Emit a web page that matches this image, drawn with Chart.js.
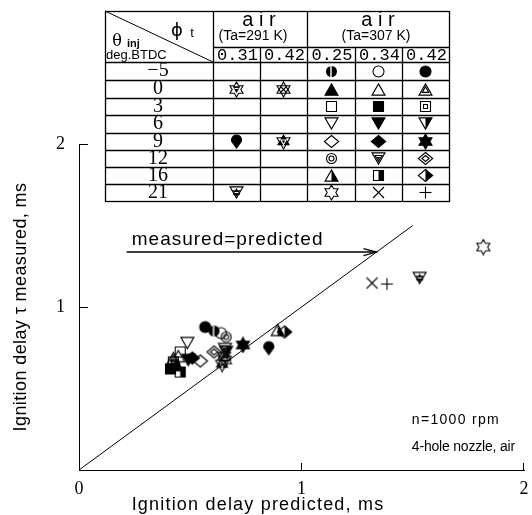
<!DOCTYPE html>
<html><head><meta charset="utf-8">
<script src="https://cdn.jsdelivr.net/npm/chart.js@4.4.1/dist/chart.umd.min.js"></script>
<style>html,body{margin:0;padding:0;background:#fff;}canvas{display:block;}</style>
</head><body>
<canvas id="c" width="532" height="515"></canvas>
<script>
// ---------------- DATA ----------------
const injectionTimings = [-5, 0, 3, 6, 9, 12, 16, 21];          // θinj, deg BTDC (table rows)
const equivalenceRatios = ['0.31', '0.42', '0.25', '0.34', '0.42']; // φt (table columns)
const airGroups = ['(Ta=291 K)', '(Ta=307 K)'];
const xTicks = [0, 1, 2];
const yTicks = [0, 1, 2];

// air, Ta=291 K
const a291_031_timing = [0, 9, 21];
const a291_031_predicted = [0.656, 0.853, 1.531];
const a291_031_measured = [0.675, 0.748, 1.178];
const a291_042_timing = [0, 9];
const a291_042_predicted = [0.652, 0.643];
const a291_042_measured = [0.699, 0.650];
// air, Ta=307 K
const a307_025_timing = [-5, 0, 3, 6, 9, 12, 16, 21];
const a307_025_predicted = [0.607, 0.438, 0.455, 0.487, 0.545, 0.661, 0.893, 1.817];
const a307_025_measured = [0.853, 0.644, 0.724, 0.779, 0.669, 0.816, 0.859, 1.368];
const a307_034_timing = [-5, 0, 3, 6, 9, 12, 16, 21];
const a307_034_predicted = [0.638, 0.446, 0.411, 0.491, 0.509, 0.656, 0.455, 1.317];
const a307_034_measured = [0.840, 0.699, 0.620, 0.675, 0.687, 0.742, 0.601, 1.147];
const a307_042_timing = [-5, 0, 3, 6, 9, 12, 16, 21];
const a307_042_predicted = [0.567, 0.424, 0.424, 0.661, 0.737, 0.607, 0.924, 1.384];
const a307_042_measured = [0.877, 0.687, 0.663, 0.724, 0.767, 0.724, 0.847, 1.141];

const identityLine = [0, 1.5];
const arrowLevel = 1.337;
const arrowStart = 0.214;

// ---------------- SYMBOLS ----------------
function makeSymbol(key){
  const S=17, c=S/2;
  const cv=document.createElement('canvas'); cv.width=S; cv.height=S;
  const g=cv.getContext('2d');
  g.lineWidth=1.1; g.strokeStyle='#000'; g.fillStyle='#000';
  const poly=(pts)=>{const p=new Path2D();p.moveTo(pts[0][0],pts[0][1]);for(let i=1;i<pts.length;i++)p.lineTo(pts[i][0],pts[i][1]);p.closePath();return p;};
  const reg=(n,r,startDeg,dy)=>{const pts=[];for(let k=0;k<n;k++){const a=(startDeg+k*360/n)*Math.PI/180;pts.push([c+r*Math.cos(a),c+dy+r*Math.sin(a)]);}return poly(pts);};
  const triU=(r)=>reg(3,r,-90,r*0.25);
  const triD=(r)=>reg(3,r,90,-r*0.25);
  const sq=(h)=>{const p=new Path2D();p.rect(c-h,c-h,2*h,2*h);return p;};
  const dia=(r)=>poly([[c,c-r],[c+r*1.2,c],[c,c+r],[c-r*1.2,c]]);
  const circ=(r)=>{const p=new Path2D();p.arc(c,c,r,0,Math.PI*2);return p;};
  const star=(r)=>{const pts=[];const ri=r/Math.sqrt(3);for(let k=0;k<12;k++){const a=(-90+k*30)*Math.PI/180;const rr=k%2?ri:r;pts.push([c+rr*Math.cos(a),c+rr*Math.sin(a)]);}return poly(pts);};
  const starU=(r)=>reg(3,r,-90,0), starD=(r)=>reg(3,r,90,0);
  const half=(p,side)=>{g.save();const cl=new Path2D();if(side==='right')cl.rect(c,0,S,S);else cl.rect(0,0,c,S);g.clip(cl);g.fill(p);g.restore();g.stroke(p);};
  const line=(x1,y1,x2,y2)=>{g.beginPath();g.moveTo(x1,y1);g.lineTo(x2,y2);g.stroke();};
  switch(key){
    case 'halfCircle': { const p=circ(5.5); g.fill(p); g.strokeStyle='#fff'; g.lineWidth=1.4; line(c-0.5,c-6,c-0.5,c+6); break; }
    case 'circle': g.stroke(circ(5.5)); break;
    case 'circleFilled': g.fill(circ(5.5)); g.stroke(circ(5.5)); break;
    case 'triFilled': g.fill(triU(7.5)); g.stroke(triU(7.5)); break;
    case 'tri': g.stroke(triU(7.5)); break;
    case 'triInTri': g.stroke(triU(7.5)); g.stroke(triU(3.8)); break;
    case 'square': g.stroke(sq(5)); break;
    case 'squareFilled': g.fill(sq(5)); g.stroke(sq(5)); break;
    case 'squareInSquare': g.stroke(sq(5)); g.stroke(sq(2)); break;
    case 'triDown': g.stroke(triD(7.5)); break;
    case 'triDownFilled': g.fill(triD(7.5)); g.stroke(triD(7.5)); break;
    case 'triDownHalf': half(triD(7.5),'right'); break;
    case 'diamond': g.stroke(dia(6)); break;
    case 'diamondFilled': g.fill(dia(6)); g.stroke(dia(6)); break;
    case 'star6Filled': g.fill(star(7.5)); g.stroke(star(7.5)); break;
    case 'ring': g.stroke(circ(5)); g.stroke(circ(2.5)); break;
    case 'triDownInTriDown': g.stroke(triD(7.5)); g.stroke(triD(4)); g.fill(triD(2)); break;
    case 'diamondInDiamond': g.stroke(dia(6)); g.stroke(dia(3)); break;
    case 'triHalf': half(triU(7.5),'right'); break;
    case 'squareHalf': half(sq(5),'right'); break;
    case 'diamondHalf': half(dia(6),'right'); break;
    case 'star6': g.stroke(star(7.5)); break;
    case 'cross': line(c-5.5,c-5.5,c+5.5,c+5.5); line(c+5.5,c-5.5,c-5.5,c+5.5); break;
    case 'plus': line(c-6,c,c+6,c); line(c,c-6,c,c+6); break;
    case 'w1': g.stroke(star(7.5)); g.fill(triD(4.5)); g.strokeStyle='#fff'; line(c-2,c-1,c+2,c-1); break;
    case 'w2': g.stroke(starU(7.5)); g.stroke(starD(7.5)); line(c-3,c-3,c+3,c+3); line(c+3,c-3,c-3,c+3); break;
    case 'w3': { const p=new Path2D(); p.arc(c,c-1.5,5,Math.PI*0.9,Math.PI*2.1); p.lineTo(c,c+6.5); p.closePath(); g.fill(p); g.stroke(p); break; }
    case 'w4': g.fill(starU(7.5)); g.stroke(starD(7.5)); g.strokeStyle='#fff'; g.stroke(starD(3)); break;
    case 'w5': g.stroke(triD(7.5)); g.fill(star(4.5)); g.strokeStyle='#fff'; line(c-2,c,c+2,c); break;
  }
  return cv;
}

const styleMap = {
  a291_031: {0:'w1', 9:'w3', 21:'w5'},
  a291_042: {0:'w2', 9:'w4'},
  a307_025: {'-5':'halfCircle',0:'triFilled',3:'square',6:'triDown',9:'diamond',12:'ring',16:'triHalf',21:'star6'},
  a307_034: {'-5':'circle',0:'tri',3:'squareFilled',6:'triDownFilled',9:'diamondFilled',12:'triDownInTriDown',16:'squareHalf',21:'cross'},
  a307_042: {'-5':'circleFilled',0:'triInTri',3:'squareInSquare',6:'triDownHalf',9:'star6Filled',12:'diamondInDiamond',16:'diamondHalf',21:'plus'}
};
const symCache = {};
function sym(k){ if(!symCache[k]) symCache[k]=makeSymbol(k); return symCache[k]; }

const seriesDefs = [
  {id:'a291_031', t:a291_031_timing, x:a291_031_predicted, y:a291_031_measured},
  {id:'a291_042', t:a291_042_timing, x:a291_042_predicted, y:a291_042_measured},
  {id:'a307_025', t:a307_025_timing, x:a307_025_predicted, y:a307_025_measured},
  {id:'a307_034', t:a307_034_timing, x:a307_034_predicted, y:a307_034_measured},
  {id:'a307_042', t:a307_042_timing, x:a307_042_predicted, y:a307_042_measured}
];

const datasets = [
  {type:'line', data:identityLine.map(v=>({x:v,y:v})), borderColor:'#000', borderWidth:1, pointRadius:0, showLine:true, fill:false},
  {type:'line', data:[{x:arrowStart,y:arrowLevel},{x:arrowLevel,y:arrowLevel}], borderColor:'#000', borderWidth:1.6, pointRadius:0, showLine:true, fill:false}
];
seriesDefs.forEach(s=>{
  datasets.push({
    type:'scatter',
    data:s.x.map((v,i)=>({x:v,y:s.y[i]})),
    pointRadius:7,
    pointStyle:(ctx)=>sym(styleMap[s.id][s.t[ctx.dataIndex]]),
    borderColor:'#000', backgroundColor:'#000'
  });
});

// ---------------- DECORATION PLUGIN ----------------
const deco = {
  id:'deco',
  afterDraw(chart){
    const ctx=chart.ctx, xs=chart.scales.x, ys=chart.scales.y, a=chart.chartArea;
    ctx.save();
    ctx.strokeStyle='#000'; ctx.fillStyle='#000'; ctx.lineWidth=1;
    // inward ticks
    [1,2].forEach(v=>{
      const y=Math.round(ys.getPixelForValue(v))+0.5;
      ctx.beginPath(); ctx.moveTo(a.left,y); ctx.lineTo(a.left+9,y); ctx.stroke();
      const x=Math.round(xs.getPixelForValue(v))-0.5;
      ctx.beginPath(); ctx.moveTo(x,a.bottom); ctx.lineTo(x,a.bottom-7); ctx.stroke();
    });
    // arrow head
    const ax=xs.getPixelForValue(arrowLevel), ay=ys.getPixelForValue(arrowLevel);
    ctx.lineWidth=1.2;
    ctx.beginPath(); ctx.moveTo(ax-13,ay-3.5); ctx.lineTo(ax,ay); ctx.lineTo(ax-13,ay+3.5); ctx.stroke();
    // annotation texts
    ctx.textBaseline='alphabetic'; ctx.textAlign='left';
    ctx.font='19px "Liberation Sans", Arial, sans-serif';
    ctx.letterSpacing='1px';
    ctx.fillText('measured=predicted', xs.getPixelForValue(0.237), ay-7);
    ctx.font='14px "Liberation Sans", Arial, sans-serif';
    ctx.textBaseline='middle';
    ctx.letterSpacing='1.3px';
    ctx.fillText('n=1000 rpm', xs.getPixelForValue(1.496), ys.getPixelForValue(0.307));
    ctx.letterSpacing='-0.2px';
    ctx.fillText('4-hole nozzle, air', xs.getPixelForValue(1.496), ys.getPixelForValue(0.141));
    // axis titles
    ctx.font='18px "Liberation Sans", Arial, sans-serif';
    ctx.letterSpacing='1.2px'; ctx.textAlign='center';
    ctx.fillText('Ignition delay predicted, ms', 258, 505);
    ctx.save(); ctx.translate(21,(a.top+a.bottom)/2); ctx.rotate(-Math.PI/2);
    ctx.letterSpacing='0.4px';
    ctx.fillText('Ignition delay \u03c4 measured, ms', 0, 0);
    ctx.restore();
    ctx.letterSpacing='0px';
    // ---- table ----
    const colX=[105,213,260,307,355,402,449];
    const rowY=[62,80,98,115,132.5,150,167,184,201];
    const top=11, sub=47;
    ctx.lineWidth=1.3;
    ctx.strokeRect(colX[0]+0.5, top+0.5, colX[6]-colX[0], rowY[8]-top);
    const hl=(x1,x2,y)=>{ctx.beginPath();ctx.moveTo(x1,Math.round(y)+0.5);ctx.lineTo(x2,Math.round(y)+0.5);ctx.stroke();};
    const vl=(x,y1,y2)=>{ctx.beginPath();ctx.moveTo(x+0.5,y1);ctx.lineTo(x+0.5,y2);ctx.stroke();};
    hl(colX[1],colX[6],sub);
    for(let i=0;i<rowY.length-1;i++) hl(colX[0],colX[6],rowY[i]);
    vl(colX[1],top,rowY[8]); vl(colX[3],top,rowY[8]);
    [2,4,5].forEach(i=>vl(colX[i],sub,rowY[8]));
    ctx.lineWidth=1;
    ctx.beginPath(); ctx.moveTo(colX[0],top); ctx.lineTo(colX[1],rowY[0]); ctx.stroke();
    // header texts
    ctx.textAlign='center'; ctx.textBaseline='middle';
    ctx.font='20px "Liberation Sans", Arial, sans-serif';
    ctx.fillText('a i r', 259, 20); ctx.fillText('a i r', 378, 20);
    ctx.font='14px "Liberation Sans", Arial, sans-serif';
    ctx.fillText(airGroups[0], 253, 36); ctx.fillText(airGroups[1], 376, 36);
    ctx.font='18px "DejaVu Sans", sans-serif';
    ctx.fillText('\u03d5', 177, 31);
    ctx.font='13px "Liberation Sans", Arial, sans-serif';
    ctx.fillText('t', 192, 33);
    ctx.font='16px "DejaVu Serif", serif';
    ctx.fillText('\u03b8', 117, 42);
    ctx.font='bold 11px "Liberation Sans", Arial, sans-serif';
    ctx.textAlign='left';
    ctx.fillText('inj', 127, 44);
    ctx.font='13px "Liberation Sans", Arial, sans-serif';
    ctx.fillText('deg.BTDC', 106, 55);
    ctx.textAlign='center';
    ctx.font='17px "Liberation Mono", monospace';
    for(let i=0;i<5;i++) ctx.fillText(equivalenceRatios[i], (colX[i+1]+colX[i+2])/2+1, 55);
    ctx.font='20px "Liberation Serif", serif';
    const colIds=['a291_031','a291_042','a307_025','a307_034','a307_042'];
    injectionTimings.forEach((t,r)=>{
      const cy=(rowY[r]+rowY[r+1])/2;
      ctx.fillText(t<0?'\u2212'+Math.abs(t):String(t), 158, cy);
      colIds.forEach((id,ci)=>{
        const k=styleMap[id][t];
        if(k){ const s=sym(k); const cx=(colX[ci+1]+colX[ci+2])/2; ctx.drawImage(s, Math.round(cx-s.width/2), Math.round(cy-s.height/2)); }
      });
    });
    ctx.restore();
  }
};

new Chart(document.getElementById('c'), {
  type:'scatter',
  data:{datasets},
  options:{
    responsive:false, animation:false, devicePixelRatio:1,
    layout:{padding:{top:144, right:6, left:0, bottom:0}},
    plugins:{legend:{display:false}, tooltip:{enabled:false}},
    scales:{
      x:{type:'linear', min:0, max:2,
         afterBuildTicks:(s)=>{s.ticks=xTicks.map(v=>({value:v}));},
         afterFit:(s)=>{s.height=45;},
         grid:{display:false, drawTicks:true, tickLength:8},
         border:{display:true, color:'#000', width:1},
         ticks:{color:'#000', padding:0, font:{family:'"Liberation Serif", serif', size:18}, callback:(v)=>String(v)}},
      y:{type:'linear', min:0, max:2,
         afterBuildTicks:(s)=>{s.ticks=yTicks.map(v=>({value:v}));},
         afterFit:(s)=>{s.width=79;},
         grid:{display:false, drawTicks:true, tickLength:12},
         border:{display:true, color:'#000', width:1},
         ticks:{color:'#000', padding:2, font:{family:'"Liberation Serif", serif', size:18}, callback:(v)=>v===0?'':String(v)}}
    }
  },
  plugins:[deco]
});
</script>
</body></html>
